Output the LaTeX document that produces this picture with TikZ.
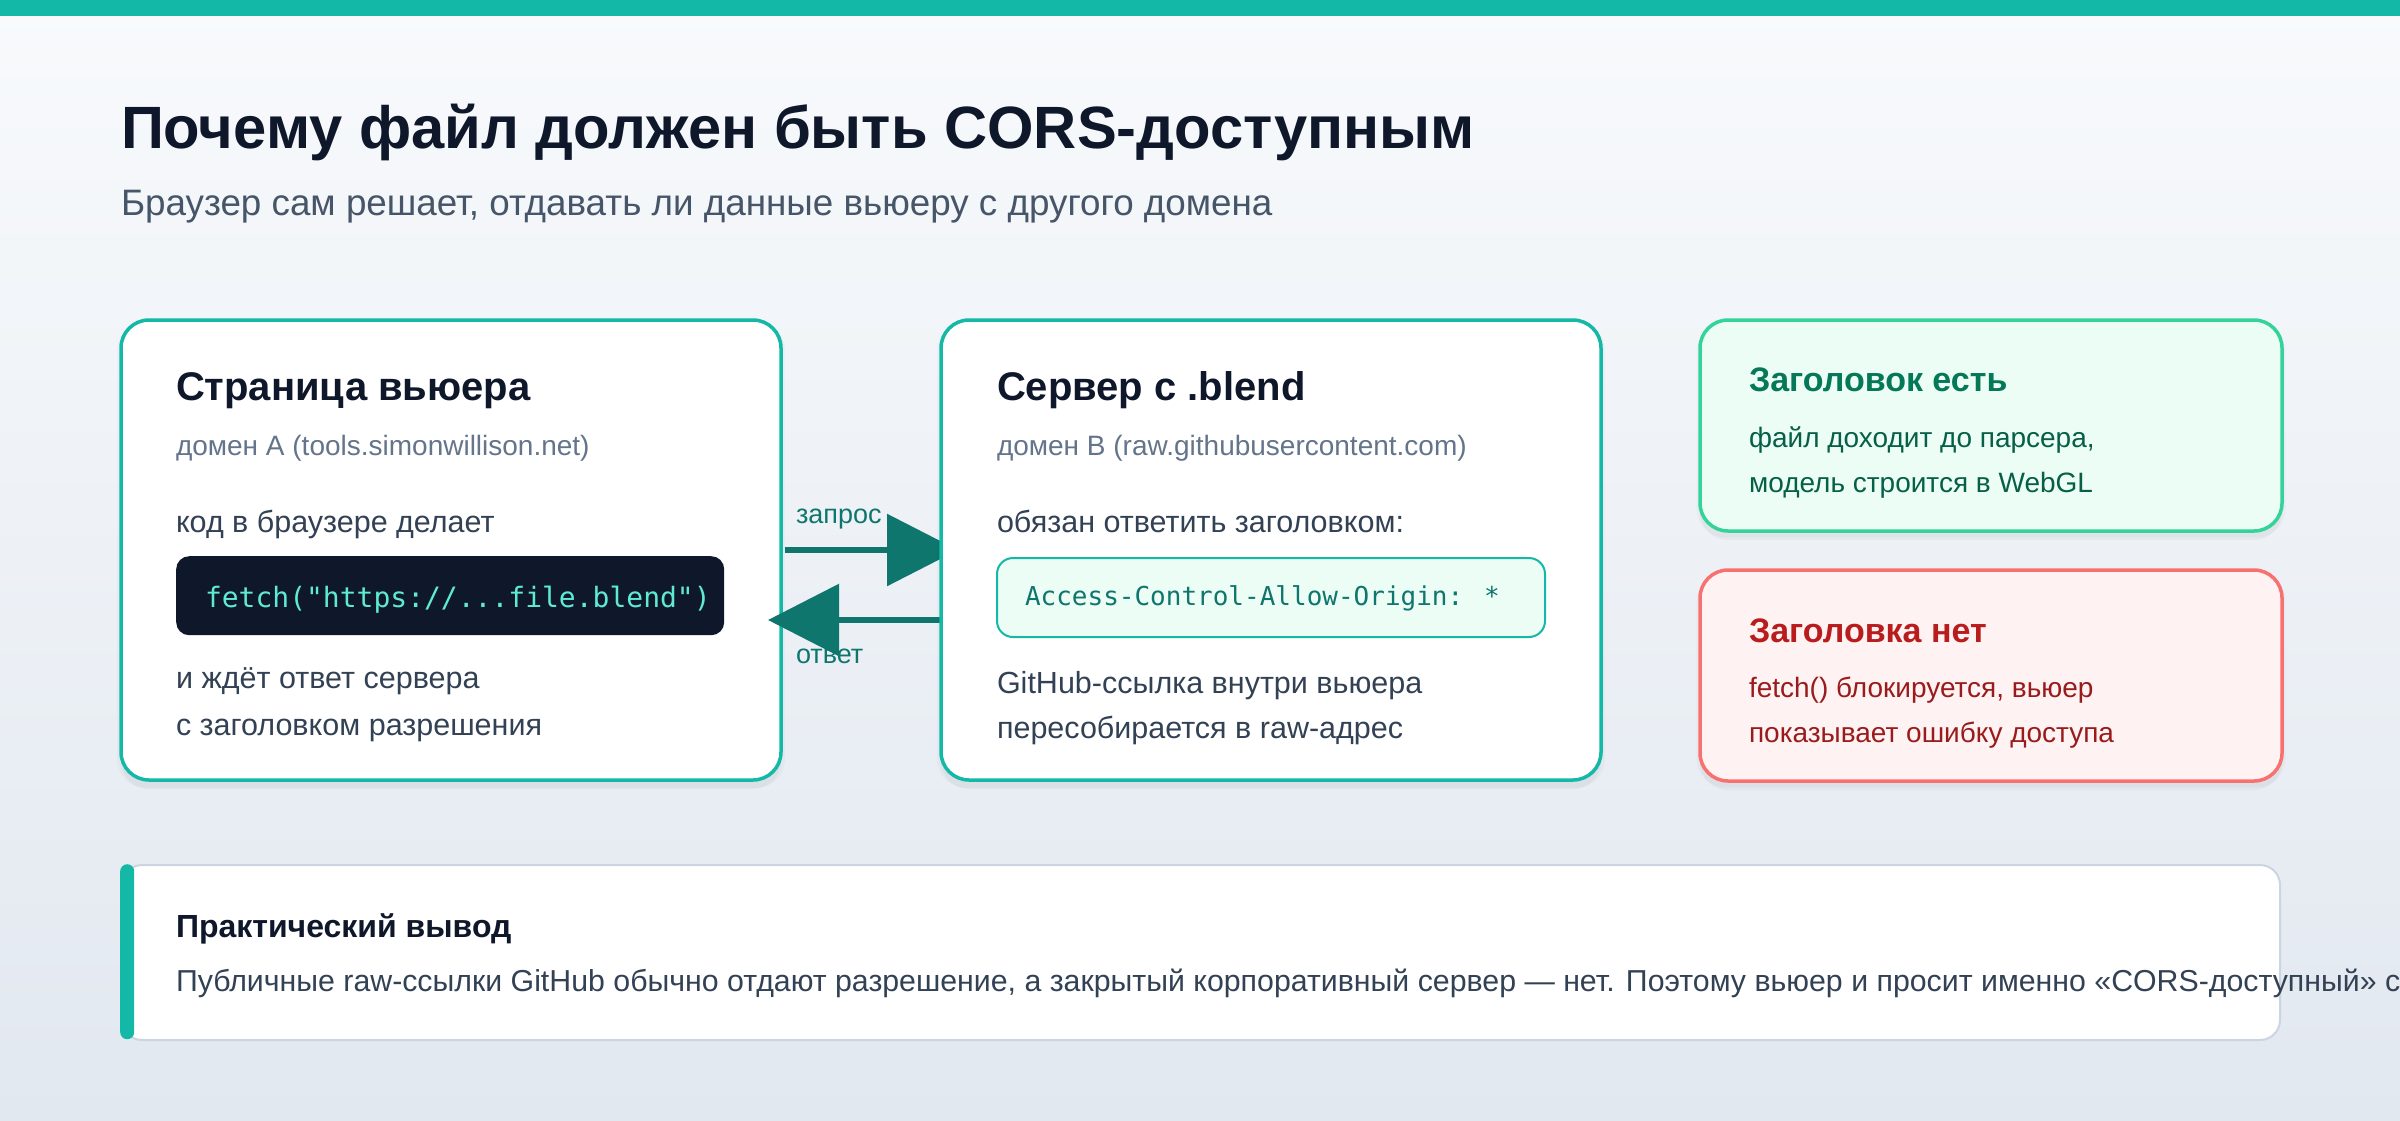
\documentclass[tikz,border=0pt]{standalone}
\usepackage{fontspec}
\setmainfont{Liberation Sans}
\newfontfamily\codefont{DejaVu Sans Mono}
\usetikzlibrary{arrows.meta,shadows}
\newcommand\pxfont[1]{\fontsize{#1}{#1}\selectfont}
\definecolor{bgtop}{HTML}{F8FAFC}
\definecolor{bgbot}{HTML}{E2E8F0}
\definecolor{tealbar}{HTML}{14B8A6}
\definecolor{ink}{HTML}{0F172A}
\definecolor{subc}{HTML}{475569}
\definecolor{greyc}{HTML}{64748B}
\definecolor{bodyc}{HTML}{334155}
\definecolor{codebg}{HTML}{0F172A}
\definecolor{codetxt}{HTML}{5EEAD4}
\definecolor{mintfill}{HTML}{ECFDF5}
\definecolor{mintink}{HTML}{0F766E}
\definecolor{arrowc}{HTML}{0F766E}
\definecolor{okfill}{HTML}{ECFDF5}
\definecolor{okborder}{HTML}{34D399}
\definecolor{oktitle}{HTML}{047857}
\definecolor{okbody}{HTML}{065F46}
\definecolor{badfill}{HTML}{FEF2F2}
\definecolor{badborder}{HTML}{F87171}
\definecolor{badtitle}{HTML}{B91C1C}
\definecolor{badbody}{HTML}{991B1B}
\definecolor{noteborder}{HTML}{CBD5E1}
\pgfdeclarelayer{back}
\pgfdeclarelayer{mid}
\pgfsetlayers{back,mid,main}
\begin{document}
\begin{tikzpicture}[x=1pt,y=-1pt,
  txt/.style={inner sep=0pt, outer sep=0pt, anchor=base west},
  softshadow/.style={general shadow={shadow yshift=-9pt, fill=black, opacity=0.03},
                     general shadow={shadow yshift=-5pt, shadow scale=1.012, fill=black, opacity=0.025}},
  card/.style={draw=tealbar, line width=3.5pt, fill=white, rounded corners=28pt,
               anchor=north west, inner sep=0pt, outer sep=0pt, softshadow},
  sidecard/.style={line width=3.5pt, rounded corners=28pt, anchor=north west,
               inner sep=0pt, outer sep=0pt, minimum width=582pt, minimum height=211pt, softshadow},
  cardtitle/.style={txt, font=\pxfont{40}\bfseries, text=ink},
  domaintxt/.style={txt, font=\pxfont{28}, text=greyc},
  bodytxt/.style={txt, font=\pxfont{30.5}, text=bodyc},
  flowarrow/.style={draw=arrowc, line width=6pt, -{Triangle[length=71pt,width=71pt]}},
  flowlabel/.style={txt, font=\pxfont{27}, text=arrowc}]
\useasboundingbox (0,0) rectangle (2400,1120);
\begin{pgfonlayer}{back}
\shade[top color=bgtop, bottom color=bgbot] (0,0) rectangle (2400,1120);
\fill[tealbar] (0,0) rectangle (2400,16);
\node[txt, font=\pxfont{59.7}\bfseries, text=ink] (title) at (121,148) {Почему файл должен быть CORS-доступным};
\node[txt, font=\pxfont{36.8}, text=subc] (subtitle) at (121,215) {Браузер сам решает, отдавать ли данные вьюеру с другого домена};
% box 1
\node[card, minimum width=660pt, minimum height=460pt] (b1) at (121,320) {};
\node[cardtitle] (b1title) at (176,400) {Страница вьюера};
\node[domaintxt] (b1dom) at (176,455) {домен A (tools.simonwillison.net)};
\node[bodytxt] (b1l1) at (176,532) {код в браузере делает};
\node[anchor=north west, fill=codebg, rounded corners=13pt, inner sep=0pt,
      minimum width=548pt, minimum height=79pt] (code) at (176,556) {};
\node[txt, font=\codefont\pxfont{28}, text=codetxt] (codet) at (205,607) {fetch("https://...file.blend")};
\node[bodytxt] (b1l2) at (176,688) {и ждёт ответ сервера};
\node[bodytxt] (b1l3) at (176,735) {с заголовком разрешения};
\end{pgfonlayer}
% box 2
\node[card, minimum width=660pt, minimum height=460pt] (b2) at (941,320) {};
\node[cardtitle] (b2title) at (997,400) {Сервер с .blend};
\node[domaintxt] (b2dom) at (997,455) {домен B (raw.githubusercontent.com)};
\node[bodytxt] (b2l1) at (997,532) {обязан ответить заголовком:};
\node[anchor=north west, fill=mintfill, draw=tealbar, line width=2pt, rounded corners=16pt,
      inner sep=0pt, minimum width=548pt, minimum height=79pt] (hdr) at (996,557) {};
\node[txt, font=\codefont\pxfont{26}, text=mintink] (hdrt) at (1025,605) {Access-Control-Allow-Origin: *};
\node[bodytxt] (b2l2) at (997,693) {GitHub-ссылка внутри вьюера};
\node[bodytxt] (b2l3) at (997,738) {пересобирается в raw-адрес};
% arrows between the boxes
\begin{pgfonlayer}{mid}
\draw[flowarrow] ([xshift=4pt]b1.east) -- ([xshift=17pt]b2.west);
\draw[flowarrow] ([shift={(6pt,-70pt)}]b2.west) -- ([shift={(-13pt,-70pt)}]b1.east);
\node[flowlabel] (req) at (796,523) {запрос};
\node[flowlabel] (resp) at (796,663) {ответ};
\end{pgfonlayer}
% outcome boxes
\node[sidecard, draw=okborder, fill=okfill] (ok) at (1700,320) {};
\node[txt, font=\pxfont{34}\bfseries, text=oktitle] (oktitle) at (1749,391) {Заголовок есть};
\node[txt, font=\pxfont{28}, text=okbody] (okl1) at (1749,447) {файл доходит до парсера,};
\node[txt, font=\pxfont{28}, text=okbody] (okl2) at (1749,492) {модель строится в WebGL};
\node[sidecard, draw=badborder, fill=badfill] (bad) at (1700,570) {};
\node[txt, font=\pxfont{34}\bfseries, text=badtitle] (badtitle) at (1749,642) {Заголовка нет};
\node[txt, font=\pxfont{28}, text=badbody] (badl1) at (1749,697) {fetch() блокируется, вьюер};
\node[txt, font=\pxfont{28}, text=badbody] (badl2) at (1749,742) {показывает ошибку доступа};
% conclusion
\node[anchor=north west, fill=white, draw=noteborder, line width=2pt, rounded corners=20pt,
      inner sep=0pt, minimum width=2158pt, minimum height=175pt] (note) at (121,864) {};
\node[anchor=north west, fill=tealbar, rounded corners=7pt, inner sep=0pt,
      minimum width=14pt, minimum height=175pt] (accent) at (120,864) {};
\node[txt, font=\pxfont{32}\bfseries, text=ink] (notetitle) at (176,937) {Практический вывод};
\node[txt, font=\pxfont{30.3}, text=bodyc] (notebody) at (176,991) {Публичные raw-ссылки GitHub обычно отдают разрешение, а закрытый корпоративный сервер — нет. Поэтому вьюер и просит именно «CORS-доступный» с};
\end{tikzpicture}
\end{document}
